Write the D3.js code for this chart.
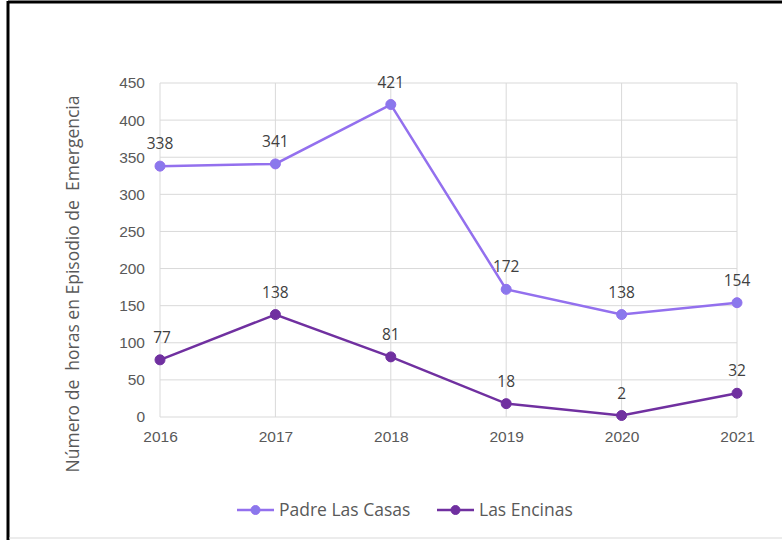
<!DOCTYPE html>
<html lang="es">
<head>
    <meta charset="UTF-8">
    <title>Horas en Episodio de Emergencia</title>
    <style>
        body { margin: 0; background: #ffffff; }
        svg { display: block; font-family: "Open Sans", "Noto Sans", sans-serif; }
    </style>
    <script src="https://d3js.org/d3.v7.min.js"></script>
</head>
<body>
    <svg width="782" height="540"></svg>
    <script>
        const years = ["2016", "2017", "2018", "2019", "2020", "2021"];
        const padreLasCasas = [338, 341, 421, 172, 138, 154];
        const lasEncinas = [77, 138, 81, 18, 2, 32];
        const yTicks = [0, 50, 100, 150, 200, 250, 300, 350, 400, 450];
        const seriesNames = ["Padre Las Casas", "Las Encinas"];
        const seriesColors = ["#9370ee", "#7030a0"];
        const markerColors = ["#8a78ec", "#7030a0"];

        const svg = d3.select("svg");
        const textColor = "#595959";

        // frame
        svg.append("line").attr("x1", 8).attr("y1", 2).attr("x2", 782).attr("y2", 2)
            .attr("stroke", "#000").attr("stroke-width", 3);
        svg.append("line").attr("x1", 8).attr("y1", 1).attr("x2", 8).attr("y2", 540)
            .attr("stroke", "#000").attr("stroke-width", 3);
        svg.append("line").attr("x1", 9).attr("y1", 538).attr("x2", 782).attr("y2", 538)
            .attr("stroke", "#d9d9d9").attr("stroke-width", 1);

        const x = d3.scalePoint().domain(years).range([160, 737]);
        const y = d3.scaleLinear().domain([0, 450]).range([417, 83]);

        // gridlines
        svg.append("g").selectAll("line").data(yTicks).join("line")
            .attr("x1", 160).attr("x2", 737)
            .attr("y1", d => y(d)).attr("y2", d => y(d))
            .attr("stroke", "#d9d9d9").attr("stroke-width", 1);
        svg.append("g").selectAll("line").data(years).join("line")
            .attr("x1", d => x(d)).attr("x2", d => x(d))
            .attr("y1", y(0)).attr("y2", y(450))
            .attr("stroke", "#d9d9d9").attr("stroke-width", 1);

        // axes
        const yAxis = svg.append("g").attr("transform", "translate(160,0)")
            .call(d3.axisLeft(y).tickValues(yTicks).tickSize(0).tickPadding(15));
        yAxis.select(".domain").remove();
        yAxis.selectAll("text").attr("fill", textColor).style("font-size", "15.5px");

        const xAxis = svg.append("g").attr("transform", "translate(0," + y(0) + ")")
            .call(d3.axisBottom(x).tickSize(0).tickPadding(14));
        xAxis.select(".domain").remove();
        xAxis.selectAll("text").attr("fill", textColor).style("font-size", "15.5px");

        // axis title
        svg.append("text")
            .attr("transform", "translate(79,284) rotate(-90)")
            .attr("text-anchor", "middle")
            .attr("fill", textColor)
            .style("font-size", "17.5px")
            .style("white-space", "pre")
            .text("Número de  horas en Episodio de  Emergencia");

        const line = d3.line().x((d, i) => x(years[i])).y(d => y(d));
        const allSeries = [padreLasCasas, lasEncinas];

        allSeries.forEach((vals, s) => {
            svg.append("path").datum(vals)
                .attr("d", line)
                .attr("fill", "none")
                .attr("stroke", seriesColors[s])
                .attr("stroke-width", 2.5);
            svg.append("g").selectAll("circle").data(vals).join("circle")
                .attr("cx", (d, i) => x(years[i]))
                .attr("cy", d => y(d))
                .attr("r", 5)
                .attr("fill", markerColors[s])
                .attr("stroke", seriesColors[s])
                .attr("stroke-width", 1);
            svg.append("g").selectAll("text").data(vals).join("text")
                .attr("x", (d, i) => x(years[i]) + (i === 0 && s === 1 ? 2 : 0))
                .attr("y", d => y(d) - 17)
                .attr("text-anchor", "middle")
                .attr("fill", "#404040")
                .style("font-size", "15.5px")
                .text(d => d);
        });

        // legend
        const legendX = [237, 437];
        seriesNames.forEach((name, s) => {
            const g = svg.append("g").attr("transform", "translate(" + legendX[s] + ",510)");
            g.append("line").attr("x1", 0).attr("x2", 37).attr("y1", 0).attr("y2", 0)
                .attr("stroke", seriesColors[s]).attr("stroke-width", 2.5);
            g.append("circle").attr("cx", 18.5).attr("cy", 0).attr("r", 4.5)
                .attr("fill", markerColors[s]).attr("stroke", seriesColors[s]);
            g.append("text").attr("x", 42).attr("y", 6)
                .attr("fill", textColor).style("font-size", "17.5px")
                .text(name);
        });
    </script>
</body>
</html>
